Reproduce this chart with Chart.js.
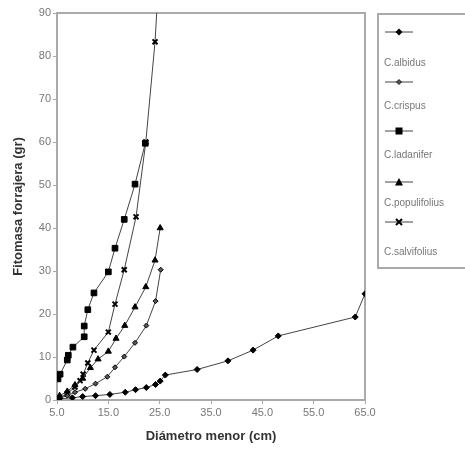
<!DOCTYPE html>
<html>
<head>
<meta charset="utf-8">
<script src="https://cdn.jsdelivr.net/npm/chart.js@4/dist/chart.umd.min.js"></script>
<style>
  body { margin: 0; background: #fff; font-family: "Liberation Sans", Arial, sans-serif; }
  #wrap { position: relative; width: 465px; height: 450px; overflow: hidden; }
  #legend { position: absolute; left: 377px; top: 13px; width: 110px; height: 256px; border: 2px solid #aaa; box-sizing: border-box; }
  #legend svg { position: absolute; left: 6px; display: block; }
  #legend span { position: absolute; left: 5px; font-size: 10px; line-height: 12px; color: #777; white-space: nowrap; }
</style>
</head>
<body>
<div id="wrap">
  <canvas id="chart" width="465" height="450"></canvas>
  <div id="legend"></div>
</div>
<script>
// Datos: diametro menor (cm) y fitomasa forrajera (gr)
const diamAlbidus = [5.5, 8.0, 10.0, 12.5, 15.3, 18.3, 20.3, 22.4, 24.2, 25.1, 26.1, 32.3, 38.3, 43.2, 48.1, 63.1, 65.0];
const fitoAlbidus = [0.3, 0.5, 0.8, 1.0, 1.3, 1.8, 2.4, 2.9, 3.6, 4.4, 5.8, 7.1, 9.1, 11.6, 14.9, 19.3, 24.7];

const diamCrispus = [5.5, 7.0, 8.5, 10.5, 12.5, 14.8, 16.3, 18.1, 20.2, 22.4, 24.2, 25.2];
const fitoCrispus = [0.5, 1.0, 1.8, 2.6, 3.8, 5.4, 7.6, 10.1, 13.3, 17.3, 23.0, 30.3];

const diamLadanifer = [5.2, 5.6, 7.0, 7.2, 8.1, 10.3, 10.3, 11.0, 12.2, 15.0, 16.3, 18.1, 20.2, 22.2];
const fitoLadanifer = [4.9, 6.0, 9.3, 10.4, 12.3, 14.7, 17.2, 21.0, 24.9, 29.8, 35.3, 42.0, 50.2, 59.7];

const diamPopulifolius = [5.5, 7.0, 8.5, 10.0, 11.5, 13.0, 15.0, 16.5, 18.2, 20.2, 22.3, 24.1, 25.1];
const fitoPopulifolius = [1.0, 2.0, 3.5, 5.0, 7.5, 9.5, 11.3, 14.3, 17.3, 21.6, 26.3, 32.5, 40.0];

const diamSalvifolius = [5.3, 7.0, 8.5, 9.5, 10.1, 11.0, 12.2, 15.0, 16.3, 18.1, 20.4, 22.3, 24.1, 24.9];
const fitoSalvifolius = [0.5, 1.5, 3.0, 4.5, 6.0, 8.6, 11.6, 15.8, 22.3, 30.3, 42.6, 60.0, 83.3, 100.0];

const especies = ['C.albidus', 'C.crispus', 'C.ladanifer', 'C.populifolius', 'C.salvifolius'];
const xTicks = [5, 15, 25, 35, 45, 55, 65];

const toPoints = (xs, ys) => xs.map((x, i) => ({ x: x, y: ys[i] }));

const estilos = [
  { pointStyle: 'rectRot', pointRadius: 3, bg: '#000' },
  { pointStyle: 'rectRot', pointRadius: 2.5, bg: '#555' },
  { pointStyle: 'rect', pointRadius: 4, bg: '#000' },
  { pointStyle: 'triangle', pointRadius: 3.5, bg: '#000' },
  { pointStyle: 'crossRot', pointRadius: 3.5, bg: '#000' }
];

const series = [
  toPoints(diamAlbidus, fitoAlbidus),
  toPoints(diamCrispus, fitoCrispus),
  toPoints(diamLadanifer, fitoLadanifer),
  toPoints(diamPopulifolius, fitoPopulifolius),
  toPoints(diamSalvifolius, fitoSalvifolius)
];

// Marco superior y derecho del area del grafico
const marco = {
  id: 'marco',
  beforeDatasetsDraw(chart) {
    const a = chart.chartArea;
    const ctx = chart.ctx;
    ctx.save();
    ctx.strokeStyle = '#aaa';
    ctx.lineWidth = 2;
    ctx.beginPath();
    ctx.moveTo(a.left, a.top);
    ctx.lineTo(a.right, a.top);
    ctx.lineTo(a.right, a.bottom);
    ctx.stroke();
    ctx.restore();
  }
};

Chart.defaults.font.family = '"Liberation Sans", Arial, sans-serif';

new Chart(document.getElementById('chart').getContext('2d'), {
  type: 'line',
  data: {
    datasets: series.map((pts, i) => ({
      label: especies[i],
      data: pts,
      borderColor: '#444',
      borderWidth: 1,
      backgroundColor: estilos[i].bg,
      pointBackgroundColor: estilos[i].bg,
      pointBorderColor: '#000',
      pointBorderWidth: estilos[i].pointStyle === 'crossRot' ? 2 : 1,
      pointStyle: estilos[i].pointStyle,
      pointRadius: estilos[i].pointRadius,
      tension: 0,
      fill: false
    }))
  },
  options: {
    responsive: false,
    animation: false,
    layout: { padding: { top: 13, right: 100, left: 0, bottom: 0 } },
    plugins: {
      legend: { display: false },
      tooltip: { enabled: false }
    },
    scales: {
      x: {
        type: 'linear',
        min: 5,
        max: 65,
        afterBuildTicks: (scale) => { scale.ticks = xTicks.map(v => ({ value: v })); },
        afterFit: (scale) => { scale.height = 50; },
        ticks: { color: '#777', font: { size: 11 }, padding: 2, callback: (v) => v.toFixed(1) },
        grid: { drawOnChartArea: false, tickLength: 4, color: '#aaa', lineWidth: 1 },
        border: { color: '#aaa', width: 2 },
        title: {
          display: true,
          text: 'Diámetro menor (cm)',
          color: '#333',
          font: { size: 13, weight: 'bold' },
          padding: { top: 4, bottom: 6 }
        }
      },
      y: {
        min: 0,
        max: 90,
        afterFit: (scale) => { scale.width = 57; },
        ticks: { stepSize: 10, color: '#777', font: { size: 11 }, padding: 2 },
        grid: { drawOnChartArea: false, tickLength: 4, color: '#aaa', lineWidth: 1 },
        border: { color: '#aaa', width: 2 },
        title: {
          display: true,
          text: 'Fitomasa forrajera (gr)',
          color: '#333',
          font: { size: 13, weight: 'bold' },
          padding: { top: 11, bottom: 0 }
        }
      }
    }
  },
  plugins: [marco]
});

// Leyenda: muestra de linea con marcador y nombre debajo
const lineaY = [32, 82, 131, 182, 222];
const textoY = [63, 106, 155, 203, 252];
const marcadores = {
  rectRot: '<polygon points="14,1.5 17.5,5 14,8.5 10.5,5" fill="#000"/>',
  rectRot2: '<polygon points="14,2.5 16.5,5 14,7.5 11.5,5" fill="#555" stroke="#000" stroke-width="0.8"/>',
  rect: '<rect x="10.5" y="1.5" width="7" height="7" fill="#000"/>',
  triangle: '<polygon points="14,1 18,8.5 10,8.5" fill="#000"/>',
  crossRot: '<path d="M11,2 L17,8 M17,2 L11,8" stroke="#000" stroke-width="2"/>'
};
const claves = ['rectRot', 'rectRot2', 'rect', 'triangle', 'crossRot'];
const legend = document.getElementById('legend');
especies.forEach((nombre, i) => {
  const svg = document.createElementNS('http://www.w3.org/2000/svg', 'svg');
  svg.setAttribute('width', '30');
  svg.setAttribute('height', '10');
  svg.style.top = (lineaY[i] - 15 - 5) + 'px';
  svg.innerHTML = '<line x1="0" y1="5" x2="28" y2="5" stroke="#444" stroke-width="1"/>' + marcadores[claves[i]];
  legend.appendChild(svg);
  const s = document.createElement('span');
  s.style.top = (textoY[i] - 15 - 6) + 'px';
  s.textContent = nombre;
  legend.appendChild(s);
});
</script>
</body>
</html>
